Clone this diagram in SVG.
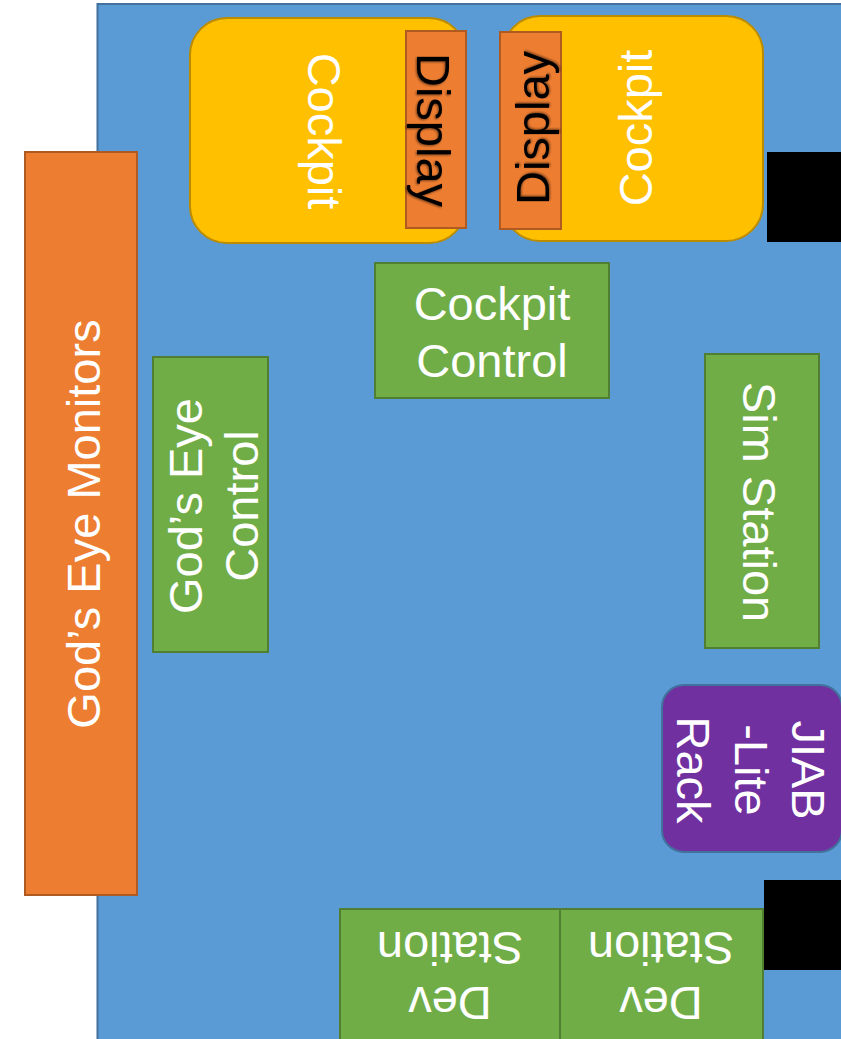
<svg xmlns="http://www.w3.org/2000/svg" width="841" height="1039" viewBox="0 0 841 1039">
<defs>
<style>
.t{font-family:"Liberation Sans",Arial,sans-serif;font-size:47px;fill:#FFFFFF;text-anchor:middle}
.dk{fill:#000000}
.grn{fill:#70AD47;stroke:#507E32;stroke-width:2}
.org{fill:#ED7D31;stroke:#AE5A21;stroke-width:2}
.yel{fill:#FFC000;stroke:#BC8C00;stroke-width:2}
.pur{fill:#7030A0;stroke:#41719C;stroke-width:2}
.blk{fill:#000000}
</style>
<filter id="sh" x="-20%" y="-20%" width="140%" height="140%">
<feGaussianBlur in="SourceAlpha" stdDeviation="1.2"/>
<feOffset dx="1" dy="1" result="b"/>
<feComponentTransfer><feFuncA type="linear" slope="0.5"/></feComponentTransfer>
<feMerge><feMergeNode/><feMergeNode in="SourceGraphic"/></feMerge>
</filter>
</defs>
<rect x="0" y="0" width="841" height="1039" fill="#FFFFFF"/>
<g id="room">
<rect x="97.5" y="4" width="800" height="1100" fill="#5B9BD5" stroke="#41719C" stroke-width="2"/>
</g>
<g id="connectors"></g>
<g id="gods-eye-monitors">
<rect class="org" x="25" y="152" width="112" height="743"/>
<text class="t" transform="translate(100,524) rotate(-90)">God’s Eye Monitors</text>
</g>
<g id="cockpit-left">
<rect class="yel" x="190" y="18" width="276" height="225" rx="37" ry="37"/>
<text class="t" transform="translate(308,131) rotate(90)">Cockpit</text>
</g>
<g id="display-left">
<rect class="org" x="406" y="31" width="60" height="197"/>
<text class="t dk" filter="url(#sh)" transform="translate(417,130) rotate(90)">Display</text>
</g>
<g id="cockpit-right">
<rect class="yel" x="503" y="16" width="260" height="225" rx="37" ry="37"/>
<text class="t" transform="translate(652,128) rotate(-90)">Cockpit</text>
</g>
<g id="display-right">
<rect class="org" x="500" y="32" width="61" height="197"/>
<text class="t dk" filter="url(#sh)" transform="translate(549,128) rotate(-90)">Display</text>
</g>
<g id="black-top">
<rect class="blk" x="767" y="152" width="80" height="90"/>
</g>
<g id="cockpit-control">
<rect class="grn" x="375" y="263" width="234" height="135"/>
<text class="t" x="492" y="320">Cockpit</text>
<text class="t" x="492" y="377">Control</text>
</g>
<g id="gods-eye-control">
<rect class="grn" x="153" y="357" width="115" height="295"/>
<text class="t" transform="translate(202,506) rotate(-90)">God’s Eye</text>
<text class="t" transform="translate(258,506) rotate(-90)">Control</text>
</g>
<g id="sim-station">
<rect class="grn" x="705" y="354" width="114" height="294"/>
<text class="t" transform="translate(743,502) rotate(90)">Sim Station</text>
</g>
<g id="jiab-lite-rack">
<rect class="pur" x="662" y="685" width="180" height="167" rx="22" ry="22"/>
<text class="t" transform="translate(792,770) rotate(90)">JIAB</text>
<text class="t" transform="translate(735,770) rotate(90)">-Lite</text>
<text class="t" transform="translate(677,770) rotate(90)">Rack</text>
</g>
<g id="black-bottom">
<rect class="blk" x="764" y="880" width="80" height="90"/>
</g>
<g id="dev-station-left">
<rect class="grn" x="340" y="909" width="220" height="140"/>
<text class="t" transform="rotate(180 450 960)" x="450" y="933">Dev</text>
<text class="t" transform="rotate(180 450 960)" x="450" y="988">Station</text>
</g>
<g id="dev-station-right">
<rect class="grn" x="560" y="909" width="203" height="140"/>
<text class="t" transform="rotate(180 661 960)" x="661" y="933">Dev</text>
<text class="t" transform="rotate(180 661 960)" x="661" y="988">Station</text>
</g>
</svg>
